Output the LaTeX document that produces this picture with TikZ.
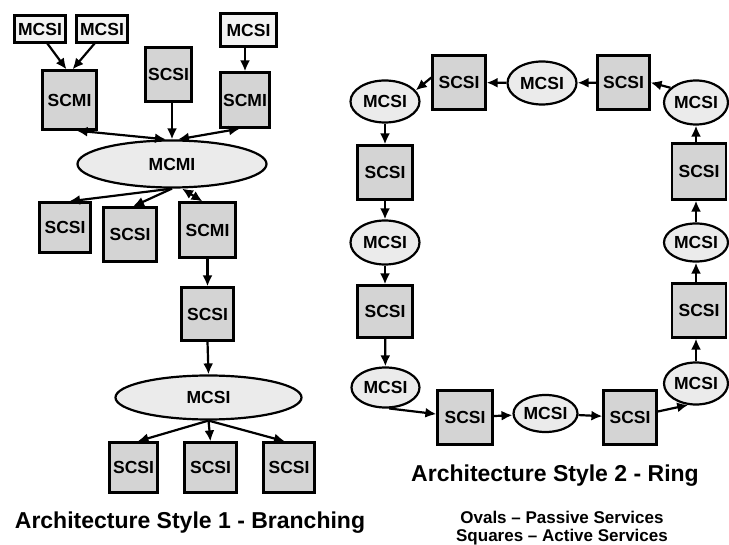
\documentclass[tikz,border=0pt]{standalone}
\usepackage{fontspec}
\setmainfont{Liberation Sans}
\usetikzlibrary{shapes.geometric,arrows.meta}
\definecolor{boxfill}{HTML}{D4D4D4}
\definecolor{ovalfill}{HTML}{EBEBEB}
\definecolor{lightfill}{HTML}{F3F3F3}
\tikzset{
  box/.style={draw, line width=2.2pt, fill=boxfill, inner sep=0pt, font=\bfseries\fontsize{17.5}{17.5}\selectfont},
  lbox/.style={box, fill=lightfill},
  oval/.style={ellipse, draw, line width=2.2pt, fill=ovalfill, inner sep=0pt, font=\bfseries\fontsize{17.5}{17.5}\selectfont},
  arr/.style={line width=2.2pt, -{Latex[length=11pt,width=10pt]}},
  darr/.style={line width=2.2pt, {Latex[length=11pt,width=10pt]}-{Latex[length=11pt,width=10pt]}},
  ttl/.style={font=\bfseries\fontsize{23}{23}\selectfont, anchor=base, inner sep=0pt},
  leg/.style={font=\bfseries\fontsize{17}{17}\selectfont, anchor=base, inner sep=0pt}
}
\begin{document}
\begin{tikzpicture}[x=1pt,y=-1pt]
\useasboundingbox (0,0) rectangle (729,545);
% ---------- Branching ----------
\node[lbox, minimum width=51, minimum height=27] (m1) at (40,29) {MCSI};
\node[lbox, minimum width=51, minimum height=27] (m2) at (102,29) {MCSI};
\node[box, minimum width=54, minimum height=59] (scmi1) at (69.5,100) {SCMI};
\node[box, minimum width=46, minimum height=54] (scsiT) at (168.5,74.5) {SCSI};
\node[lbox, minimum width=56, minimum height=33] (m3) at (248.5,30) {MCSI};
\node[box, minimum width=49, minimum height=55] (scmi2) at (245,100) {SCMI};
\node[oval, minimum width=189, minimum height=47] (mcmi) at (172,164) {MCMI};
\node[box, minimum width=51, minimum height=50] (s1) at (65,227.5) {SCSI};
\node[box, minimum width=53, minimum height=54] (s2) at (130,234.5) {SCSI};
\node[box, minimum width=56, minimum height=55] (scmi3) at (207.5,230) {SCMI};
\node[box, minimum width=52, minimum height=53] (s4) at (207.5,314) {SCSI};
\node[oval, minimum width=186, minimum height=44] (mcsiE) at (208.5,397.5) {MCSI};
\node[box, minimum width=48, minimum height=50] (b1) at (133.5,467.5) {SCSI};
\node[box, minimum width=52, minimum height=50] (b2) at (210.5,467.5) {SCSI};
\node[box, minimum width=51, minimum height=50] (b3) at (289,467.5) {SCSI};
\node[ttl] (t1) at (190,528) {Architecture Style 1 - Branching};

\coordinate (cA) at (47,43);
\coordinate (cB) at (95,43);
\draw[arr] (cA) -- ([xshift=-3pt]scmi1.north);
\draw[arr] (cB) -- ([xshift=3pt]scmi1.north);
\draw[arr] (scsiT.south -| mcmi.north) -- (mcmi.north);
\draw[arr] (m3.south -| scmi2.north) -- (scmi2.north);
\draw[darr] ([xshift=7pt]scmi1.south) -- ([xshift=-6pt]mcmi.north);
\draw[darr] ([xshift=-5pt]scmi2.south) -- ([xshift=6pt]mcmi.north);
\draw[arr] (mcmi.south) -- ([xshift=4pt]s1.north);
\draw[arr] (mcmi.south) -- ([xshift=3pt]s2.north);
\draw[darr] ([xshift=10pt]mcmi.south) -- ([xshift=-5pt]scmi3.north);
\draw[arr] (scmi3.south) -- (s4.north);
\draw[arr] (s4.south) -- (mcsiE.north);
\draw[arr] (mcsiE.south) -- ([xshift=4pt]b1.north);
\draw[arr] (mcsiE.south) -- (b2.north);
\draw[arr] (mcsiE.south) -- ([xshift=-4pt]b3.north);

% ---------- Ring ----------
\node[box, minimum width=53, minimum height=54] (rTL) at (459,82.5) {SCSI};
\node[oval, minimum width=69, minimum height=43] (rTM) at (542,83) {MCSI};
\node[box, minimum width=52, minimum height=54] (rTR) at (623.5,82.5) {SCSI};
\node[oval, minimum width=64, minimum height=44] (rR1) at (696,102.5) {MCSI};
\node[oval, minimum width=69, minimum height=42] (rL1) at (385,101.5) {MCSI};
\node[box, minimum width=55, minimum height=54] (rL2) at (385,172.5) {SCSI};
\node[oval, minimum width=69, minimum height=44] (rL3) at (385,242.5) {MCSI};
\node[box, minimum width=55, minimum height=52] (rL4) at (385,311.5) {SCSI};
\node[oval, minimum width=68, minimum height=40] (rL5) at (385.5,387.5) {MCSI};
\node[box, minimum width=55, minimum height=54] (rB1) at (465,417.5) {SCSI};
\node[oval, minimum width=64, minimum height=37] (rB2) at (545.5,413.5) {MCSI};
\node[box, minimum width=53, minimum height=54] (rB3) at (630,417.5) {SCSI};
\node[oval, minimum width=64, minimum height=42] (rR5) at (696,383.5) {MCSI};
\node[box, minimum width=54, minimum height=54] (rR4) at (699,310.5) {SCSI};
\node[oval, minimum width=64, minimum height=38] (rR3) at (696,242.5) {MCSI};
\node[box, minimum width=54, minimum height=56] (rR2) at (699,171.5) {SCSI};
\node[ttl] (t2) at (555,482) {Architecture Style 2 - Ring};
\node[leg] (l1) at (562,523) {Ovals -- Passive Services};
\node[leg] (l2) at (562,541) {Squares -- Active Services};

\draw[arr] ([yshift=5pt]rTL.west) -- (rL1.20);
\draw[arr] (rTM) -- (rTL);
\draw[arr] (rTR) -- (rTM);
\draw[arr] (rR1.150) -- (rTR.east);
\draw[arr] (rL1) -- (rL2);
\draw[arr] (rL2) -- (rL3);
\draw[arr] (rL3) -- (rL4);
\draw[arr] (rL4) -- (rL5);
\draw[arr] (rL5.-80) -- (rB1);
\draw[arr] (rB1) -- (rB2);
\draw[arr] (rB2) -- (rB3);
\draw[arr] (rB3) -- (rR5.-110);
\draw[arr] (rR5) -- (rR5 |- rR4.south);
\draw[arr] (rR4.north -| rR3) -- (rR3);
\draw[arr] (rR3) -- (rR3 |- rR2.south);
\draw[arr] (rR2.north -| rR1) -- (rR1);
\end{tikzpicture}
\end{document}
